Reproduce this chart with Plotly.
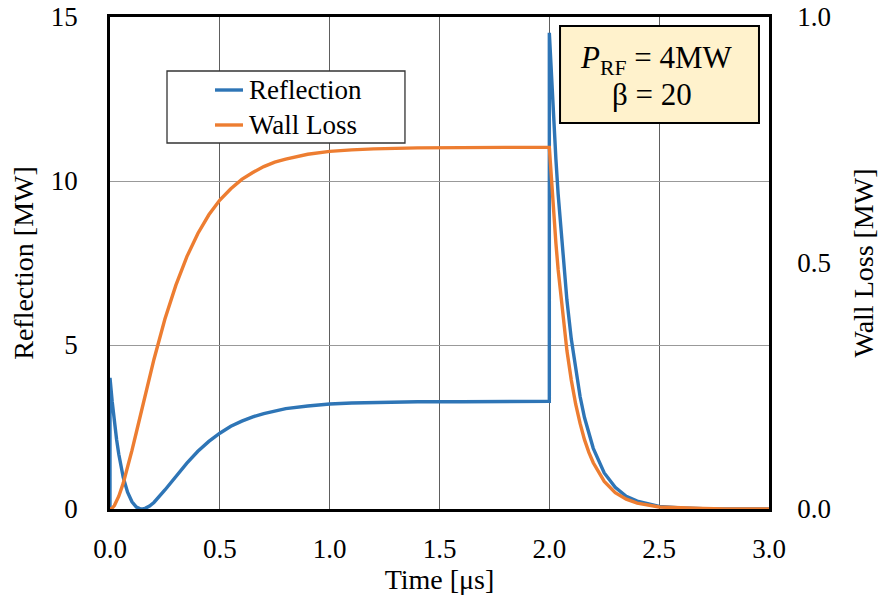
import plotly.graph_objects as go

# ---- data ----
time_us = [0.0, 0.0, 0.01, 0.02, 0.03, 0.04, 0.06, 0.08, 0.10, 0.12, 0.13, 0.14, 0.15, 0.16,
           0.18, 0.20, 0.25, 0.30, 0.35, 0.40, 0.45, 0.50, 0.55, 0.60, 0.65, 0.70, 0.75, 0.80,
           0.90, 1.00, 1.10, 1.20, 1.40, 1.60, 1.80, 2.00, 2.00, 2.01, 2.02, 2.03, 2.04, 2.06,
           2.08, 2.10, 2.12, 2.14, 2.16, 2.18, 2.20, 2.25, 2.30, 2.35, 2.40, 2.50, 2.60, 2.70,
           2.80, 3.00]
reflection_mw = [0.0, 4.00, 3.27, 2.65, 2.12, 1.67, 0.97, 0.51, 0.22, 0.06, 0.02, 0.00, 0.00, 0.02,
                 0.09, 0.20, 0.58, 1.00, 1.40, 1.76, 2.06, 2.31, 2.52, 2.68, 2.81, 2.91, 2.99, 3.06,
                 3.14, 3.20, 3.23, 3.25, 3.27, 3.27, 3.27, 3.28, 14.52, 13.10, 11.82, 10.66, 9.61, 7.82,
                 6.37, 5.18, 4.22, 3.43, 2.79, 2.27, 1.85, 1.10, 0.66, 0.39, 0.24, 0.08, 0.03, 0.01,
                 0.00, 0.00]
wall_loss_mw = [0.0, 0.0, 0.002, 0.007, 0.015, 0.026, 0.052, 0.084, 0.119, 0.156, 0.175, 0.194, 0.213, 0.232,
                0.269, 0.304, 0.386, 0.455, 0.513, 0.560, 0.598, 0.628, 0.651, 0.670, 0.684, 0.696, 0.705, 0.711,
                0.721, 0.727, 0.730, 0.732, 0.734, 0.735, 0.735, 0.735, 0.735, 0.663, 0.598, 0.540, 0.487, 0.396,
                0.322, 0.262, 0.213, 0.174, 0.141, 0.115, 0.094, 0.056, 0.033, 0.020, 0.012, 0.004, 0.002, 0.001,
                0.000, 0.000]

x_ticks = [0.0, 0.5, 1.0, 1.5, 2.0, 2.5, 3.0]
x_tick_labels = ["0.0", "0.5", "1.0", "1.5", "2.0", "2.5", "3.0"]
y_ticks = [0, 5, 10, 15]
y_tick_labels = ["0", "5", "10", "15"]
y2_ticks = [0.0, 0.5, 1.0]
y2_tick_labels = ["0.0", "0.5", "1.0"]

series_names = ["Reflection", "Wall Loss"]
BLUE = "#2E75B6"
ORANGE = "#ED7D31"
FONT = "Liberation Serif"

fig = go.Figure()
fig.add_trace(go.Scatter(x=time_us, y=reflection_mw, mode="lines", name=series_names[0],
                         line=dict(color=BLUE, width=3.4), yaxis="y", showlegend=False))
fig.add_trace(go.Scatter(x=time_us, y=wall_loss_mw, mode="lines", name=series_names[1],
                         line=dict(color=ORANGE, width=3.4), yaxis="y2", showlegend=False))

tickfont = dict(family=FONT, size=27, color="black")
titlefont = dict(family=FONT, size=28, color="black")

fig.update_layout(
    width=879, height=597,
    margin=dict(l=110, r=110, t=17, b=88),
    paper_bgcolor="white", plot_bgcolor="white",
    showlegend=False,
    xaxis=dict(range=[0, 3.0], tickvals=x_ticks, ticktext=x_tick_labels,
               showgrid=True, gridcolor="#5e5e5e", gridwidth=1.3,
               showline=True, linecolor="black", linewidth=2.5, mirror=True,
               ticks="", ticklabelstandoff=14, tickfont=tickfont, zeroline=False,
               automargin=False,
               title=dict(text="Time [μs]", font=titlefont, standoff=1)),
    yaxis=dict(range=[0, 15], tickvals=y_ticks, ticktext=y_tick_labels,
               showgrid=True, gridcolor="#999999", gridwidth=1.3,
               showline=True, linecolor="black", linewidth=2.5, mirror=False,
               ticks="", ticklabelstandoff=24, tickfont=tickfont, zeroline=False,
               automargin=False,
               title=dict(text="Reflection [MW]", font=titlefont, standoff=10)),
    yaxis2=dict(range=[0, 1.0], tickvals=y2_ticks, ticktext=y2_tick_labels,
                overlaying="y", side="right", showgrid=False,
                showline=True, linecolor="black", linewidth=2.5,
                ticks="", ticklabelstandoff=20, tickfont=tickfont, zeroline=False,
                automargin=False,
                title=dict(text="Wall Loss [MW]", font=titlefont, standoff=26)),
)

# ---- manual legend (paper coordinates) ----
fig.add_shape(type="rect", xref="paper", yref="paper", x0=0.0865, x1=0.4476, y0=0.7439, y1=0.8902,
              line=dict(color="#333333", width=1.3), fillcolor="white", layer="above")
legend_colors = [BLUE, ORANGE]
legend_y = [0.8516, 0.7805]
for name, col, ly in zip(series_names, legend_colors, legend_y):
    fig.add_shape(type="line", xref="paper", yref="paper", x0=0.1593, x1=0.2018, y0=ly, y1=ly,
                  line=dict(color=col, width=3.4), layer="above")
    fig.add_annotation(xref="paper", yref="paper", x=0.2079, y=ly, text=name, showarrow=False,
                       xanchor="left", yanchor="middle", font=dict(family=FONT, size=27, color="black"))

# ---- parameter box ----
fig.add_shape(type="rect", xref="paper", yref="paper", x0=0.6829, x1=0.9848, y0=0.7846, y1=0.9817,
              line=dict(color="black", width=2), fillcolor="#FFF2CC", layer="above")
fig.add_annotation(xref="paper", yref="paper", x=0.8290, y=0.9126,
                   text="<i>P</i><sub>RF</sub> = 4MW", showarrow=False,
                   xanchor="center", yanchor="middle", font=dict(family=FONT, size=31, color="black"))
fig.add_annotation(xref="paper", yref="paper", x=0.8226, y=0.8415,
                   text="β = 20", showarrow=False,
                   xanchor="center", yanchor="middle", font=dict(family=FONT, size=31, color="black"))

fig.write_html("out.html")
